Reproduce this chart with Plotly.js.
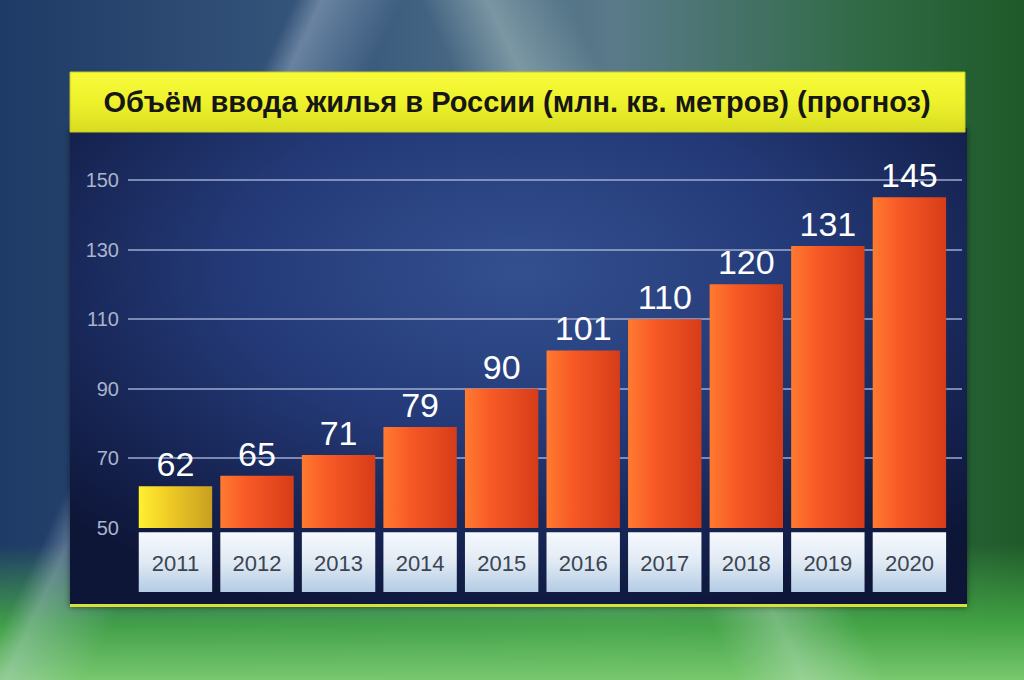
<!DOCTYPE html>
<html>
<head>
<meta charset="utf-8">
<script src="https://cdn.plot.ly/plotly-3.0.1.min.js"></script>
<style>
  html, body { margin: 0; padding: 0; width: 1024px; height: 680px; overflow: hidden; }
  body {
    background:
      linear-gradient(115deg, rgba(255,255,255,0) 0%, rgba(255,255,255,0) 22%, rgba(200,215,230,0.35) 24%, rgba(255,255,255,0) 30%, rgba(255,255,255,0) 100%),
      linear-gradient(65deg, rgba(255,255,255,0) 55%, rgba(210,230,220,0.35) 60%, rgba(255,255,255,0) 66%),
      linear-gradient(180deg, rgba(0,0,0,0) 0%, rgba(0,0,0,0) 80%, rgba(70,170,70,0.9) 92%, rgba(120,200,110,1) 100%),
      linear-gradient(90deg, #1e3a66 0%, #3a5a7e 35%, #5a7a8a 60%, #2f6a44 85%, #1f5a2a 100%);
  }
  #panel {
    position: absolute; left: 70px; top: 128px; width: 897px; height: 476px;
    background: radial-gradient(ellipse 70% 75% at 50% 30%, #34508f 0%, #243a78 45%, #15224f 80%, #0e1638 100%);
    border-bottom: 3px solid #d8e040;
    box-shadow: 0 0 6px rgba(0,0,0,0.5);
  }
  #chart { position: absolute; left: 0; top: 0; width: 1024px; height: 680px; }
</style>
</head>
<body>
<div id="panel"></div>
<div id="chart"></div>
<script>
const titleText = 'Объём ввода жилья в России (млн. кв. метров) (прогноз)';
const years = ['2011', '2012', '2013', '2014', '2015', '2016', '2017', '2018', '2019', '2020'];
const volumes = [62, 65, 71, 79, 90, 101, 110, 120, 131, 145];
const yTicks = [50, 70, 90, 110, 130, 150];

const barColors = years.map((y, i) => i === 0 ? '#e8c024' : '#ee5424');

const trace = {
  type: 'bar',
  x: years,
  y: volumes,
  width: 0.9,
  marker: { color: barColors, line: { width: 0 } },
  text: volumes.map(String),
  textposition: 'outside',
  textfont: { family: 'Liberation Sans, Arial, sans-serif', size: 34, color: '#ffffff' },
  cliponaxis: false,
  hoverinfo: 'x+y'
};

// year boxes under each bar (positioned on the category axis)
const boxShapes = years.map((y, i) => ({
  type: 'rect', layer: 'below',
  xref: 'x', yref: 'paper',
  x0: i - 0.45, x1: i + 0.45,
  y0: -0.169, y1: -0.011,
  fillcolor: '#d4e2f0',
  line: { width: 0 }
}));

const layout = {
  width: 1024, height: 680,
  paper_bgcolor: 'rgba(0,0,0,0)',
  plot_bgcolor: 'rgba(0,0,0,0)',
  margin: { l: 128, r: 62, t: 150, b: 152 },
  showlegend: false,
  title: {
    text: titleText,
    x: 0.505, xref: 'container', xanchor: 'center',
    y: 0.85, yref: 'container', yanchor: 'middle',
    font: { family: 'Liberation Sans Narrow, Liberation Sans, Arial Narrow, sans-serif', size: 29, color: '#161616', weight: 700 }
  },
  xaxis: {
    type: 'category',
    range: [-0.582, 9.645],
    showgrid: false, zeroline: false, showline: false,
    ticks: '',
    ticklabelstandoff: 20,
    tickfont: { family: 'Liberation Sans Narrow, Liberation Sans, sans-serif', size: 22, color: '#3c4450' },
    fixedrange: true
  },
  yaxis: {
    range: [50, 158.6],
    tickvals: yTicks,
    ticktext: yTicks.map(String),
    showgrid: true,
    gridcolor: 'rgba(165,180,215,0.7)',
    gridwidth: 2,
    zeroline: false, showline: false,
    ticks: '',
    ticklabelstandoff: 8,
    tickfont: { family: 'Liberation Sans, Arial, sans-serif', size: 20, color: '#aab4cc' },
    fixedrange: true
  },
  shapes: [
    { type: 'rect', layer: 'below', xref: 'paper', yref: 'paper',
      x0: -0.0695, x1: 1.0036, y0: 1.0476, y1: 1.2063,
      fillcolor: '#eef22c', line: { color: '#c8cc20', width: 1 } }
  ].concat(boxShapes)
};

Plotly.newPlot('chart', [trace], layout, { displayModeBar: false, staticPlot: true }).then(gd => {
  const svg = gd.querySelector('svg.main-svg');
  const NS = 'http://www.w3.org/2000/svg';
  let defs = svg.querySelector('defs');
  if (!defs) { defs = document.createElementNS(NS, 'defs'); svg.insertBefore(defs, svg.firstChild); }
  function grad(id, stops, x2, y2) {
    const g = document.createElementNS(NS, 'linearGradient');
    g.setAttribute('id', id);
    g.setAttribute('x1', '0'); g.setAttribute('y1', '0');
    g.setAttribute('x2', x2); g.setAttribute('y2', y2);
    stops.forEach(s => {
      const st = document.createElementNS(NS, 'stop');
      st.setAttribute('offset', s[0]);
      st.setAttribute('stop-color', s[1]);
      g.appendChild(st);
    });
    defs.appendChild(g);
  }
  grad('gOrange', [['0', '#ff7a30'], ['0.35', '#f85a26'], ['1', '#d63c18']], '1', '0');
  grad('gGold', [['0', '#fff030'], ['0.4', '#f0cc26'], ['1', '#c8a020']], '1', '0');
  grad('gBox', [['0', '#f6f9fd'], ['0.5', '#e0eaf4'], ['1', '#b4cce4']], '0', '1');
  grad('gYellow', [['0', '#f6fa3a'], ['0.5', '#eef22c'], ['1', '#d8dc22']], '0', '1');
  gd.querySelectorAll('.barlayer .point path').forEach((p, i) => {
    p.style.fill = i === 0 ? 'url(#gGold)' : 'url(#gOrange)';
  });
  gd.querySelectorAll('.shapelayer path').forEach(p => {
    const idx = +p.getAttribute('data-index');
    p.style.fill = idx === 0 ? 'url(#gYellow)' : 'url(#gBox)';
    p.style.fillOpacity = 1;
  });
});
</script>
</body>
</html>
